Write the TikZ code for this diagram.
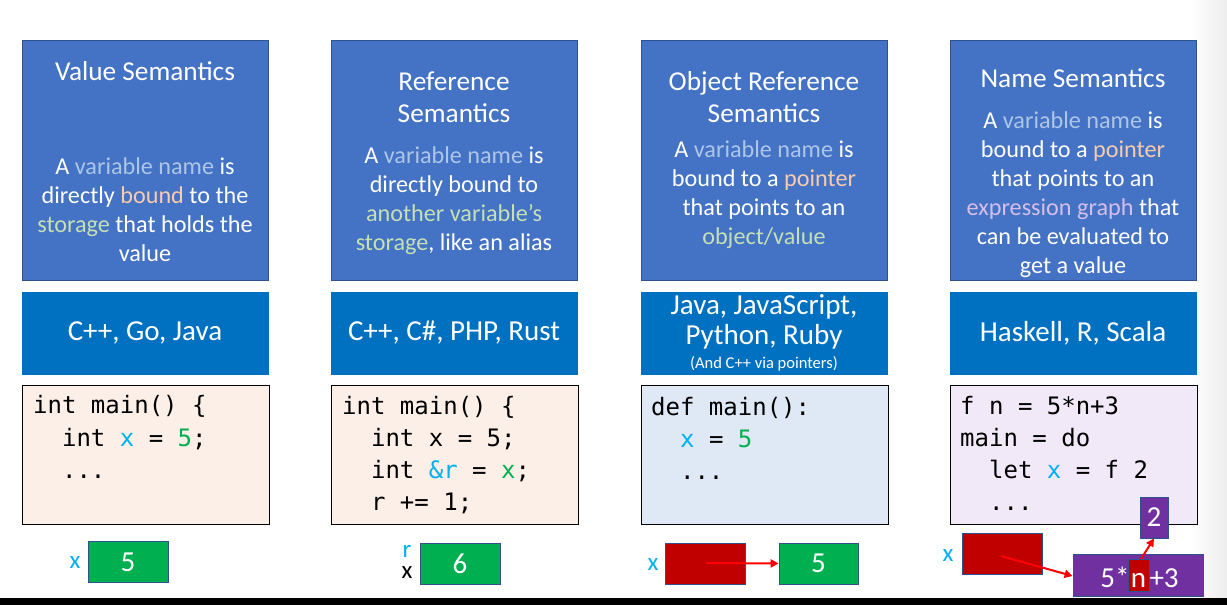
\documentclass[tikz,border=0pt]{standalone}
\usepackage{fontspec}
\setmainfont{Carlito}
\setmonofont{DejaVu Sans Mono}
\usetikzlibrary{arrows.meta}

\definecolor{hdrblue}{HTML}{4472C4}
\definecolor{hdredge}{HTML}{2F528F}
\definecolor{langblue}{HTML}{0070C0}
\definecolor{peachbg}{HTML}{FCEFE7}
\definecolor{bluebg}{HTML}{DEE9F5}
\definecolor{lilacbg}{HTML}{F1E9F8}
\definecolor{varblue}{HTML}{ADC6E8}
\definecolor{peach}{HTML}{F8CBAD}
\definecolor{sage}{HTML}{C5E0B4}
\definecolor{lavender}{HTML}{D5BEEA}
\definecolor{codecyan}{HTML}{00B0F0}
\definecolor{codegreen}{HTML}{00B050}
\definecolor{cellred}{HTML}{C00000}
\definecolor{exprpurple}{HTML}{7030A0}

\newcommand\titlefont{\fontsize{27.3}{32}\selectfont}
\newcommand\bodyfont{\fontsize{24.2}{29}\selectfont}
\newcommand\langfont{\fontsize{29}{30}\selectfont}
\newcommand\notefont{\fontsize{16.5}{18}\selectfont}
\newcommand\codefont{\fontsize{24}{32}\ttfamily}
\newcommand\cellfont{\fontsize{29}{30}\selectfont}

\tikzset{
  panel/.style={draw=hdredge, fill=hdrblue, line width=0.8pt, anchor=north west,
    minimum width=246, minimum height=240, inner sep=0},
  langbox/.style={fill=langblue, anchor=north west, minimum width=247,
    minimum height=83, inner sep=0},
  codebox/.style={draw=black, line width=0.9pt, anchor=north west,
    minimum width=247, minimum height=139, inner sep=0},
  wtext/.style={text=white, align=center, inner sep=0},
  codeline/.style={anchor=base west, inner sep=0, font=\codefont},
  cell/.style={draw=hdredge, line width=0.8pt, minimum width=80,
    minimum height=41, inner sep=0, text=white, font=\cellfont},
  varlabel/.style={inner sep=0, font=\fontsize{25}{21}\selectfont},
  ptr/.style={draw=red, line width=2pt, -{Triangle[length=8pt,width=8pt]}},
}

\begin{document}
\begin{tikzpicture}[x=1pt, y=-1pt]
\useasboundingbox (0,0) rectangle (1227,605);
% faint shading along the right edge
\shade[left color=white, right color=black!7] (1190,0) rectangle (1227,598);

% ---- header panels ----
\node[panel] (p1) at (22,40) {};
\node[panel] (p2) at (331,40) {};
\node[panel] (p3) at (641,40) {};
\node[panel] (p4) at (950,40) {};

\node[wtext, font=\titlefont] (t1) at (145,71) {Value Semantics};
\node[wtext, font=\bodyfont] (b1) at (145,210) {A \textcolor{varblue}{variable name} is\\
  directly \textcolor{peach}{bound} to the\\
  \textcolor{sage}{storage} that holds the\\ value};

\node[wtext, font=\titlefont] (t2) at (454,97) {Reference\\Semantics};
\node[wtext, font=\bodyfont] (b2) at (454,201) {A \textcolor{varblue}{variable name} is\\
  directly bound to\\
  \textcolor{sage}{another variable’s}\\
  \textcolor{sage}{storage}, like an alias};

\node[wtext, font=\titlefont] (t3) at (764,97) {Object Reference\\Semantics};
\node[wtext, font=\bodyfont] (b3) at (764,195) {A \textcolor{varblue}{variable name} is\\
  bound to a \textcolor{peach}{pointer}\\
  that points to an\\
  \textcolor{sage}{object/value}};

\node[wtext, font=\titlefont] (t4) at (1073,78) {Name Semantics};
\node[wtext, font=\bodyfont] (b4) at (1073,195) {A \textcolor{varblue}{variable name} is\\
  bound to a \textcolor{peach}{pointer}\\
  that points to an\\
  \textcolor{lavender}{expression graph} that\\
  can be evaluated to\\
  get a value};

% ---- language boxes ----
\node[langbox] (l1) at (22,292) {};
\node[langbox] (l2) at (331,292) {};
\node[langbox] (l3) at (641,292) {};
\node[langbox] (l4) at (950,292) {};

\node[wtext, font=\langfont] (lt1) at (145,333) {C++, Go, Java};
\node[wtext, font=\langfont] (lt2) at (454,333) {C++, C\#, PHP, Rust};
\node[wtext, font=\langfont] (lt3) at (764,322) {Java, JavaScript,\\Python, Ruby};
\node[wtext, font=\notefont] (lt3n) at (764,364) {(And C++ via pointers)};
\node[wtext, font=\langfont] (lt4) at (1073,333) {Haskell, R, Scala};

% ---- code boxes ----
\node[codebox, fill=peachbg] (c1) at (22,385) {};
\node[codebox, fill=peachbg] (c2) at (331,385) {};
\node[codebox, fill=bluebg] (c3) at (641,385) {};
\node[codebox, fill=lilacbg] (c4) at (950,385) {};

\node[codeline] (c1a) at (33,413) {int main() \{};
\node[codeline] (c1b) at (33,446) {\ \ int \textcolor{codecyan}{x} = \textcolor{codegreen}{5};};
\node[codeline] (c1c) at (33,478) {\ \ ...};

\node[codeline] (c2a) at (342,414) {int main() \{};
\node[codeline] (c2b) at (342,446) {\ \ int x = 5;};
\node[codeline] (c2c) at (342,478) {\ \ int \textcolor{codecyan}{\&r} = \textcolor{codegreen}{x};};
\node[codeline] (c2d) at (342,510) {\ \ r += 1;};

\node[codeline] (c3a) at (651,415) {def main():};
\node[codeline] (c3b) at (651,447) {\ \ \textcolor{codecyan}{x} = \textcolor{codegreen}{5}};
\node[codeline] (c3c) at (651,479) {\ \ ...};

\node[codeline] (c4a) at (960,414) {f n = 5*n+3};
\node[codeline] (c4b) at (960,446) {main = do};
\node[codeline] (c4c) at (960,478) {\ \ let \textcolor{codecyan}{x} = f 2};
\node[codeline] (c4d) at (960,510) {\ \ ...};

% ---- storage cells ----
% value semantics
\node[varlabel, text=codecyan] (x1) at (75,563) {x};
\node[cell, fill=codegreen] (v1) at (128,562) {5};

% reference semantics: two names for one cell
\node[varlabel, align=center] (rx2) at (407,562) {\textcolor{codecyan}{r}\\x};
\node[cell, fill=codegreen] (v2) at (460,563.5) {6};

% object reference semantics
\node[varlabel, text=codecyan] (x3) at (653,565) {x};
\node[cell, fill=cellred] (ptr3) at (705,563.5) {};
\node[cell, fill=codegreen, minimum width=79] (v3) at (818.5,563.5) {5};
\coordinate (ptr3src) at (706,563);
\draw[ptr] (ptr3src) -- (v3.west);

% name semantics
\node[varlabel, text=codecyan] (x4) at (948,556) {x};
\node[cell, fill=cellred] (ptr4) at (1002,553.5) {};
\node[cell, fill=exprpurple, minimum width=130, minimum height=42] (expr) at (1138,575) {};
\node[draw=hdredge, line width=0.6pt, fill=cellred, minimum width=21,
  minimum height=32, inner sep=0] (nref) at (1138.5,575) {};
\node[inner sep=0, text=white, font=\cellfont, anchor=base] (nchar) at (1138.5,587) {n};
\node[inner sep=0, text=white, font=\cellfont, anchor=base east, xshift=2pt] (lhs) at (nref.west |- nchar.base) {5*};
\node[inner sep=0, text=white, font=\cellfont, anchor=base west] (rhs) at (nref.east |- nchar.base) {+3};
\node[cell, fill=exprpurple, minimum width=28] (arg) at (1154,517.5) {2};
\coordinate (ptr4src) at (1001,556);
\coordinate (nsrc) at (1141,559);
\draw[ptr] (ptr4src) -- (expr.west |- 0,576);
\draw[ptr] (nsrc) -- (arg.south);

% bottom rule
\fill[black] (0,598) rectangle (1227,605);
\end{tikzpicture}
\end{document}
